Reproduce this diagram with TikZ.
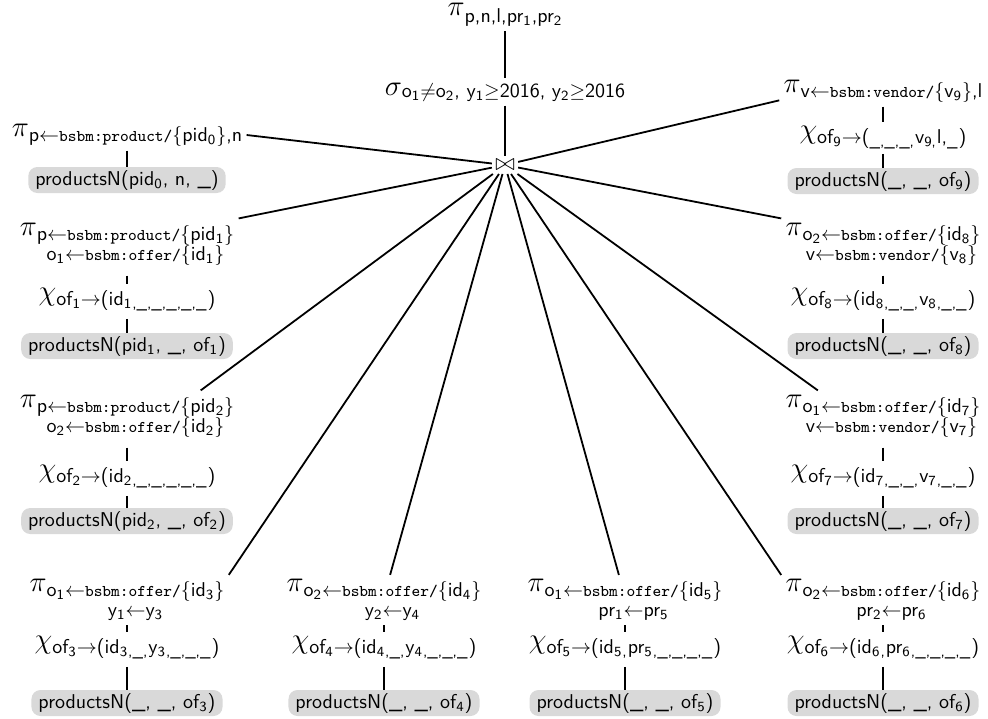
\documentclass[tikz,border=0pt]{standalone}
\usetikzlibrary{calc}
\newcommand{\lo}[1]{$_{\mbox{\fontsize{7}{7}\selectfont\sffamily #1}}$}
\newcommand{\lu}[1]{$_{\mbox{\fontsize{7.4}{8}\selectfont\sffamily #1}}$}
\newcommand{\bs}[1]{{\fontsize{8.2}{8}\selectfont\ttfamily #1}}
\newcommand{\la}{$\leftarrow$}
\newcommand{\ra}{$\rightarrow$}
\newcommand{\lb}{$\{$}
\newcommand{\rb}{$\}$}
\newcommand{\gk}[1]{\mbox{\fontsize{13.5}{14}\selectfont$#1$}}
\newcommand{\op}[3][2.5pt]{\gk{#2}\raisebox{-#1}{\sffamily #3}}
\newcommand{\twoline}[2]{\vtop{\baselineskip=10pt\lineskiplimit=-100pt\tabskip=0pt\halign{\hfil##\hfil\cr#1\cr#2\cr}}}
\newcommand{\optwo}[3]{\gk{#1}\raisebox{-2.5pt}{\sffamily\twoline{#2}{#3}}}
\tikzset{
  opnode/.style={inner sep=2pt, font=\sffamily},
  relnode/.style={fill=gray!30, rounded corners=4.5pt, inner xsep=3.5pt, inner ysep=1.5pt, font=\sffamily},
  joinnode/.style={inner sep=1.5pt},
  conn/.style={line width=0.9pt}
}
\begin{document}
\begin{tikzpicture}[x=0.5pt,y=-0.5pt]
\useasboundingbox (0,0) rectangle (988,718);
% top
\node[opnode] (pitop) at (505,15) {\op[3.5pt]{\pi}{p,n,l,pr\lo{1},pr\lo{2}}};
\node[opnode] (sigma) at (505,92) {\op[1pt]{\sigma}{o\lo{1}$\neq$o\lo{2}, y\lo{1}$\geq$2016, y\lo{2}$\geq$2016}};
\node[joinnode] (join) at (505,165) {\mbox{\fontsize{12}{12}\selectfont$\bowtie$}};
% row 1 left
\node[opnode] (pi0) at (127,135) {\op{\pi}{p\la\bs{bsbm:product/}\lb pid\lo{0}\rb,n}};
\node[relnode] (box0) at (127,180) {productsN(pid\lo{0}, n, \_)};
% row 1 right
\node[opnode] (pi9) at (883,91) {\op{\pi}{v\la\bs{bsbm:vendor/}\lb v\lo{9}\rb,l}};
\node[opnode] (chi9) at (883,138) {\op{\chi}{of\lo{9}\ra(\lu{\_,\_,\_,}v\lo{9,}l,\lu{\_})}};
\node[relnode] (box9) at (883,181) {productsN(\_, \_, of\lo{9})};
% row 2
\node[opnode] (pi1) at (127,244) {\optwo{\pi}{p\la\bs{bsbm:product/}\lb pid\lo{1}\rb}{o\lo{1}\la\bs{bsbm:offer/}\lb id\lo{1}\rb}};
\node[opnode] (chi1) at (127,300) {\op{\chi}{of\lo{1}\ra(id\lo{1}\lu{,\_,\_,\_,\_,\_})}};
\node[relnode] (box1) at (127,346) {productsN(pid\lo{1}, \_, of\lo{1})};
\node[opnode] (pi8) at (883,244) {\optwo{\pi}{o\lo{2}\la\bs{bsbm:offer/}\lb id\lo{8}\rb}{v\la\bs{bsbm:vendor/}\lb v\lo{8}\rb}};
\node[opnode] (chi8) at (883,300) {\op{\chi}{of\lo{8}\ra(id\lo{8}\lu{,\_,\_,}v\lo{8}\lu{,\_,\_})}};
\node[relnode] (box8) at (883,346) {productsN(\_, \_, of\lo{8})};
% row 3
\node[opnode] (pi2) at (127,416) {\optwo{\pi}{p\la\bs{bsbm:product/}\lb pid\lo{2}\rb}{o\lo{2}\la\bs{bsbm:offer/}\lb id\lo{2}\rb}};
\node[opnode] (chi2) at (127,477) {\op{\chi}{of\lo{2}\ra(id\lo{2}\lu{,\_,\_,\_,\_,\_})}};
\node[relnode] (box2) at (127,521) {productsN(pid\lo{2}, \_, of\lo{2})};
\node[opnode] (pi7) at (883,416) {\optwo{\pi}{o\lo{1}\la\bs{bsbm:offer/}\lb id\lo{7}\rb}{v\la\bs{bsbm:vendor/}\lb v\lo{7}\rb}};
\node[opnode] (chi7) at (883,477) {\op{\chi}{of\lo{7}\ra(id\lo{7}\lu{,\_,\_,}v\lo{7}\lu{,\_,\_})}};
\node[relnode] (box7) at (883,521) {productsN(\_, \_, of\lo{7})};
% row 4
\node[opnode] (pi3) at (127,600) {\optwo{\pi}{o\lo{1}\la\bs{bsbm:offer/}\lb id\lo{3}\rb}{y\lo{1}\la y\lo{3}}};
\node[opnode] (chi3) at (127,648) {\op{\chi}{of\lo{3}\ra(id\lo{3}\lu{,\_,}y\lo{3}\lu{,\_,\_,\_})}};
\node[relnode] (box3) at (127,703) {productsN(\_, \_, of\lo{3})};
\node[opnode] (pi4) at (384,600) {\optwo{\pi}{o\lo{2}\la\bs{bsbm:offer/}\lb id\lo{4}\rb}{y\lo{2}\la y\lo{4}}};
\node[opnode] (chi4) at (384,648) {\op{\chi}{of\lo{4}\ra(id\lo{4}\lu{,\_,}y\lo{4}\lu{,\_,\_,\_})}};
\node[relnode] (box4) at (384,703) {productsN(\_, \_, of\lo{4})};
\node[opnode] (pi5) at (625,600) {\optwo{\pi}{o\lo{1}\la\bs{bsbm:offer/}\lb id\lo{5}\rb}{pr\lo{1}\la pr\lo{5}}};
\node[opnode] (chi5) at (625,648) {\op{\chi}{of\lo{5}\ra(id\lo{5}\lu{,}pr\lo{5}\lu{,\_,\_,\_,\_})}};
\node[relnode] (box5) at (625,703) {productsN(\_, \_, of\lo{5})};
\node[opnode] (pi6) at (883,600) {\optwo{\pi}{o\lo{2}\la\bs{bsbm:offer/}\lb id\lo{6}\rb}{pr\lo{2}\la pr\lo{6}}};
\node[opnode] (chi6) at (883,648) {\op{\chi}{of\lo{6}\ra(id\lo{6}\lu{,}pr\lo{6}\lu{,\_,\_,\_,\_})}};
\node[relnode] (box6) at (883,703) {productsN(\_, \_, of\lo{6})};
% connectors
\draw[conn] (pitop) -- (sigma);
\draw[conn] (sigma) -- (join);
\draw[conn] (join) -- (pi0.east);
\draw[conn] (join) -- ($(pi9.west)!0.6!(pi9.south west)$);
\draw[conn] (join) -- (pi1.north east);
\draw[conn] (join) -- (pi8.north west);
\draw[conn] (join) -- ($(pi2.north west)!0.83!(pi2.north east)$);
\draw[conn] (join) -- ($(pi7.north west)!0.18!(pi7.north east)$);
\draw[conn] (join) -- (pi3.north east);
\draw[conn] (join) -- ($(pi4.north west)!0.53!(pi4.north east)$);
\draw[conn] (join) -- ($(pi5.north west)!0.47!(pi5.north east)$);
\draw[conn] (join) -- (pi6.north west);
\draw[conn] (pi0) -- (box0);
\draw[conn] (pi9) -- (chi9);
\draw[conn] (chi9) -- (box9);
\foreach \k in {1,8,2,7} {
  \draw[conn, shorten <=3pt] (pi\k) -- (chi\k);
  \draw[conn, shorten <=1.5pt] (chi\k) -- (box\k);
}
\foreach \k in {3,4,5,6} {
  \draw[conn] (pi\k) -- (chi\k);
  \draw[conn, shorten <=1.5pt] (chi\k) -- (box\k);
}
\end{tikzpicture}
\end{document}
